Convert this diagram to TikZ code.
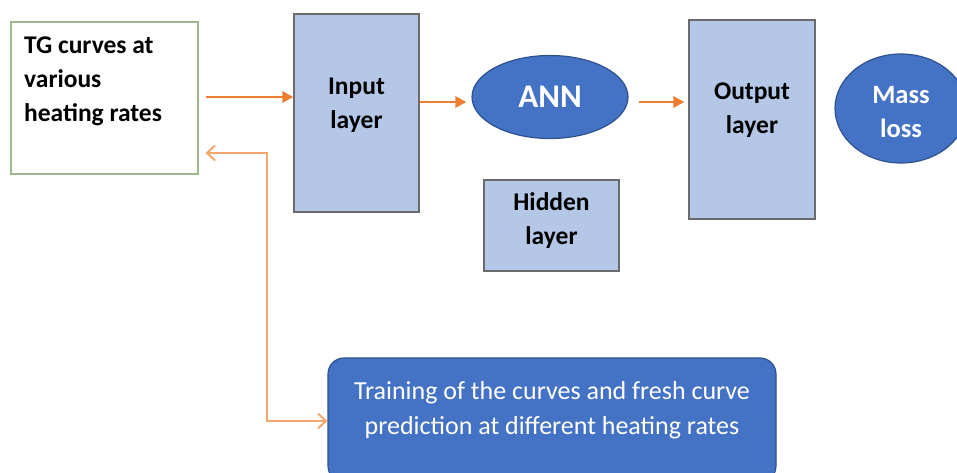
\documentclass[tikz,border=0pt]{standalone}
\usepackage{fontspec}
\setmainfont{Carlito}
\usetikzlibrary{arrows.meta,shapes.geometric}
\definecolor{layerfill}{HTML}{B4C7E7}
\definecolor{layerdraw}{HTML}{6B6B6B}
\definecolor{blueA}{HTML}{4472C4}
\definecolor{blueB}{HTML}{2F528F}
\definecolor{orangeA}{HTML}{ED7D31}
\definecolor{orangeB}{HTML}{F4A66E}
\definecolor{greenB}{HTML}{9DB88A}
\tikzset{
  layerbox/.style={draw=layerdraw, line width=1.2pt, fill=layerfill, rectangle, inner sep=0pt},
  lbl/.style={align=center, font=\fontsize{25.5}{34}\selectfont\bfseries, inner sep=0pt},
  blueell/.style={ellipse, draw=blueB, line width=1.2pt, fill=blueA, inner sep=0pt},
  oarrow/.style={draw=orangeA, line width=2.8pt, -{Triangle[length=11pt,width=11pt]}},
  fbarrow/.style={draw=orangeB, line width=2pt, {Straight Barb[length=8pt,width=15pt]}-{Straight Barb[length=8pt,width=15pt]}}
}
\begin{document}
\begin{tikzpicture}[x=1pt,y=-1pt]
\useasboundingbox (0,0) rectangle (957,473);
% TG box
\node[draw=greenB, line width=1.2pt, minimum width=187pt, minimum height=152pt, inner sep=0pt] (tg) at (104.5,98) {};
\node[lbl, align=left, anchor=west] (tgT) at (24,81) {TG curves at\\various\\heating rates};
% Input layer
\node[layerbox, minimum width=125pt, minimum height=198pt] (input) at (356.5,113) {};
\node[lbl] (inputT) at (356.5,105) {Input\\layer};
% ANN
\node[blueell, minimum width=156pt, minimum height=83pt] (ann) at (550,97) {};
\node[font=\fontsize{33}{36}\selectfont\bfseries, text=white, inner sep=0pt] (annT) at (550,97) {ANN};
% Output layer
\node[layerbox, minimum width=126pt, minimum height=199pt] (output) at (752,119.5) {};
\node[lbl] (outputT) at (752,110) {Output\\layer};
% Mass loss
\node[blueell, minimum width=132pt, minimum height=109pt] (mass) at (901,108.5) {};
\node[lbl, text=white, font=\fontsize{26.5}{34}\selectfont\bfseries] (massT) at (901,112.5) {Mass\\loss};
% Hidden layer
\node[layerbox, minimum width=135pt, minimum height=91pt] (hidden) at (551.5,225.5) {};
\node[lbl] (hiddenT) at (551.5,221) {Hidden\\layer};
% Bottom box
\node[draw=blueB, line width=1.2pt, fill=blueA, rounded corners=16pt, minimum width=448pt, minimum height=124pt, inner sep=0pt] (train) at (552,420) {};
\node[align=center, text=white, font=\fontsize{26}{35}\selectfont, inner sep=0pt] (trainT) at (552,410.5) {Training of the curves and fresh curve\\prediction at different heating rates};
% arrows
\draw[oarrow, shorten <=7pt] (tg.east |- 0,97) -- (input.west |- 0,97);
\draw[oarrow, shorten >=5pt] (input.east |- 0,102) -- (ann.west |- 0,102);
\draw[oarrow, shorten <=10pt, shorten >=4pt] (ann.east |- 0,102) -- (output.west |- 0,102);
\coordinate (fbc) at (267,300);
\draw[fbarrow, shorten <=7pt] (tg.east |- 0,153) -| (fbc) |- (train.west |- 0,421);
\end{tikzpicture}
\end{document}
